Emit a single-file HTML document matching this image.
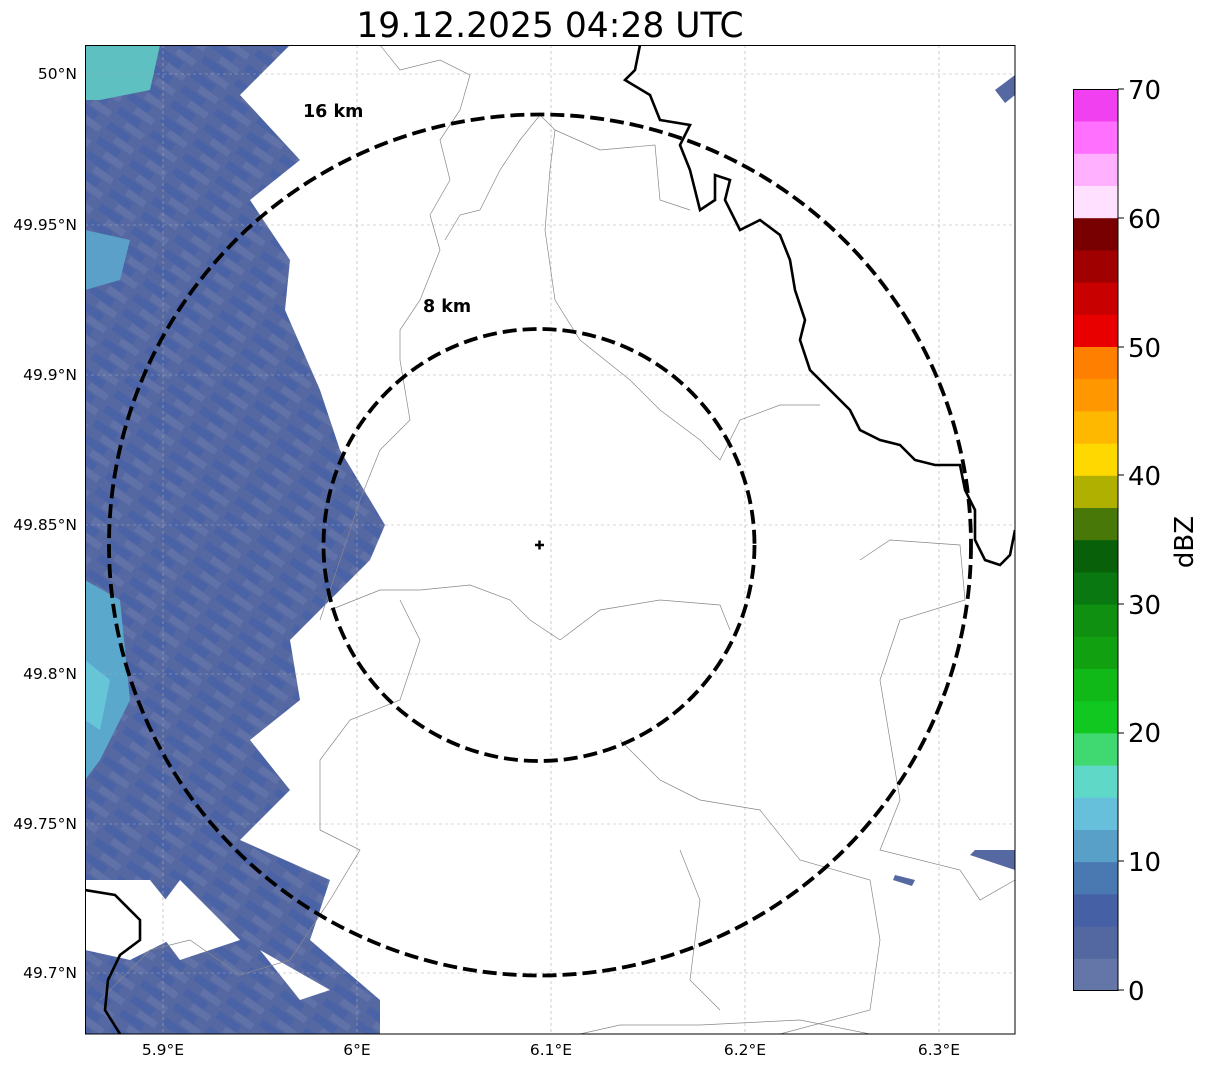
<!DOCTYPE html>
<html><head><meta charset="utf-8"><style>
body{margin:0;background:#fff;width:1207px;height:1069px;overflow:hidden;font-family:"DejaVu Sans",sans-serif}
</style></head><body>
<svg width="1207" height="1069" viewBox="0 0 1207 1069" xmlns="http://www.w3.org/2000/svg" font-family="DejaVu Sans, sans-serif">
<defs>
<pattern id="st" width="40" height="18" patternUnits="userSpaceOnUse" patternTransform="rotate(35)">
<rect width="40" height="18" fill="#5568a2"/>
<rect x="0" y="0" width="26" height="8" fill="#4a62a6"/>
<rect x="14" y="9" width="22" height="7" fill="#6072a8"/>
</pattern>
<clipPath id="pc"><rect x="85" y="45" width="930" height="989"/></clipPath>
</defs>
<text x="550" y="37" font-size="34.5" text-anchor="middle">19.12.2025 04:28 UTC</text>
<g clip-path="url(#pc)">
<path d="M85,45 L290,45 L240,95 L300,160 L250,200 L290,260 L285,310 L320,390 L340,450 L385,525 L370,560 L330,600 L290,640 L300,700 L250,740 L290,790 L240,840 L330,880 L310,940 L380,1000 L380,1034 L85,1034 Z" fill="url(#st)"/>
<path d="M85,880 L150,880 L190,930 L130,960 L85,950 Z" fill="#fff"/>
<path d="M180,880 L240,940 L180,960 L150,920 Z" fill="#fff"/>
<path d="M260,950 L330,990 L300,1000 Z" fill="#fff"/>
<path d="M85,45 L160,45 L150,90 L100,100 L85,100 Z" fill="#5ec0c0"/>
<path d="M85,580 L120,600 L130,700 L100,760 L85,780 Z" fill="#5aa8cc"/>
<path d="M85,230 L130,240 L120,280 L85,290 Z" fill="#5aa0c8"/>
<path d="M85,660 L110,680 L100,730 L85,720 Z" fill="#66c6d8"/>
<path d="M970,855 L1015,870 L1015,850 L975,850 Z" fill="#5568a2"/>
<path d="M895,875 L915,880 L912,886 L893,880 Z" fill="#5568a2"/>
<path d="M995,90 L1015,75 L1015,95 L1005,103 Z" fill="#5568a2"/>
</g>
<g stroke="#aaa" stroke-width="0.6" stroke-dasharray="3,3" fill="none">
<line x1="163" y1="45" x2="163" y2="1034"/><line x1="357" y1="45" x2="357" y2="1034"/><line x1="551" y1="45" x2="551" y2="1034"/><line x1="745" y1="45" x2="745" y2="1034"/><line x1="939" y1="45" x2="939" y2="1034"/>
<line x1="85" y1="74" x2="1015" y2="74"/><line x1="85" y1="225" x2="1015" y2="225"/><line x1="85" y1="375" x2="1015" y2="375"/><line x1="85" y1="525" x2="1015" y2="525"/><line x1="85" y1="674" x2="1015" y2="674"/><line x1="85" y1="824" x2="1015" y2="824"/><line x1="85" y1="973" x2="1015" y2="973"/>
</g>
<g stroke="#888" stroke-width="0.7" fill="none" clip-path="url(#pc)">
<path d="M380,45 L400,70 L440,60 L470,75 L460,110 L440,140 L450,180 L430,215 L440,250 L420,300 L400,330 L400,360 L410,420 L380,450 L360,500 L340,560 L320,620"/>
<path d="M540,115 L520,140 L500,170 L480,210 L460,215 L445,240"/>
<path d="M540,115 L555,130 L550,170 L545,230 L555,300 L580,340 L630,380 L660,410 L700,440 L720,460 L740,420 L780,405 L820,405"/>
<path d="M330,610 L380,590 L420,590 L470,585 L510,600 L530,620 L560,640 L600,610 L660,600 L720,605 L730,630"/>
<path d="M555,130 L600,150 L655,145 L660,200 L690,210"/>
<path d="M860,560 L890,540 L960,545 L965,600 L900,620 L880,680 L900,800 L880,850 L960,870 L980,900 L1015,880"/>
<path d="M400,600 L420,640 L400,700 L350,720 L320,760 L320,830 L360,850 L330,900 L290,960 L240,975 L190,940 L150,950 L100,1000"/>
<path d="M620,740 L660,780 L700,800 L760,810 L800,860 L870,880 L880,940 L870,1010 L780,1034"/>
<path d="M580,1034 L620,1025 L700,1025 L800,1020 L870,1034"/>
<path d="M680,850 L700,900 L690,980 L720,1010"/>
</g>
<g stroke="#000" stroke-width="2.6" fill="none" clip-path="url(#pc)">
<path d="M640,45 L635,70 L625,80 L650,95 L660,120 L690,125 L680,145 L690,170 L700,210 L715,200 L715,175 L730,180 L725,200 L740,230 L760,220 L780,235 L790,260 L795,290 L805,320 L800,340 L810,370 L830,390 L850,410 L860,430 L880,440 L900,445 L915,460 L935,465 L960,465 L965,490 L975,510 L975,540 L985,560 L1000,565 L1010,555 L1015,530"/>
<path d="M85,890 L115,895 L140,920 L140,940 L120,955 L108,980 L105,1010 L120,1034"/>
</g>
<g stroke="#000" stroke-width="3.8" fill="none" stroke-dasharray="14,6">
<ellipse cx="540" cy="545" rx="431" ry="430.5"/>
<ellipse cx="539" cy="545" rx="215.5" ry="216"/>
</g>
<path d="M535,545 h9 M539.5,540.5 v9" stroke="#000" stroke-width="2.5"/>
<text x="303" y="117" font-size="17.5" font-weight="bold">16 km</text>
<text x="423" y="312" font-size="17.5" font-weight="bold">8 km</text>
<rect x="85.5" y="45.5" width="929.5" height="988.5" fill="none" stroke="#000" stroke-width="1"/>
<g font-size="15.5" text-anchor="middle">
<text x="163" y="1055">5.9°E</text><text x="357" y="1055">6°E</text><text x="551" y="1055">6.1°E</text><text x="745" y="1055">6.2°E</text><text x="939" y="1055">6.3°E</text>
</g>
<g font-size="15.5" text-anchor="end">
<text x="77" y="79">50°N</text><text x="77" y="230">49.95°N</text><text x="77" y="380">49.9°N</text><text x="77" y="530">49.85°N</text><text x="77" y="679">49.8°N</text><text x="77" y="829">49.75°N</text><text x="77" y="978">49.7°N</text>
</g>
<g>
<rect x="1073" y="958" width="45" height="33" fill="#6475a8"/>
<rect x="1073" y="925.8" width="45" height="33" fill="#5368a0"/>
<rect x="1073" y="893.6" width="45" height="33" fill="#4560a5"/>
<rect x="1073" y="861.4" width="45" height="33" fill="#4a78b0"/>
<rect x="1073" y="829.2" width="45" height="33" fill="#58a0c8"/>
<rect x="1073" y="797" width="45" height="33" fill="#66c0dc"/>
<rect x="1073" y="764.8" width="45" height="33" fill="#60d8c8"/>
<rect x="1073" y="732.6" width="45" height="33" fill="#40d870"/>
<rect x="1073" y="700.4" width="45" height="33" fill="#10c820"/>
<rect x="1073" y="668.2" width="45" height="33" fill="#10b818"/>
<rect x="1073" y="636" width="45" height="33" fill="#10a010"/>
<rect x="1073" y="603.8" width="45" height="33" fill="#109010"/>
<rect x="1073" y="571.6" width="45" height="33" fill="#0a7810"/>
<rect x="1073" y="539.4" width="45" height="33" fill="#086008"/>
<rect x="1073" y="507.2" width="45" height="33" fill="#487808"/>
<rect x="1073" y="475" width="45" height="33" fill="#b0b000"/>
<rect x="1073" y="442.8" width="45" height="33" fill="#ffd800"/>
<rect x="1073" y="410.6" width="45" height="33" fill="#ffb800"/>
<rect x="1073" y="378.4" width="45" height="33" fill="#ff9800"/>
<rect x="1073" y="346.2" width="45" height="33" fill="#ff8000"/>
<rect x="1073" y="314" width="45" height="33" fill="#e80000"/>
<rect x="1073" y="281.8" width="45" height="33" fill="#c80000"/>
<rect x="1073" y="249.6" width="45" height="33" fill="#a00000"/>
<rect x="1073" y="217.4" width="45" height="33" fill="#780000"/>
<rect x="1073" y="185.2" width="45" height="33" fill="#ffe0ff"/>
<rect x="1073" y="153" width="45" height="33" fill="#ffb0ff"/>
<rect x="1073" y="120.8" width="45" height="33" fill="#ff70ff"/>
<rect x="1073" y="89" width="45" height="32.5" fill="#f040f0"/>
<rect x="1073.5" y="89.5" width="44.5" height="901" fill="none" stroke="#000" stroke-width="1"/>
</g>
<g font-size="26">
<text x="1128" y="1000">0</text><text x="1128" y="871">10</text><text x="1128" y="742">20</text><text x="1128" y="614">30</text><text x="1128" y="485">40</text><text x="1128" y="357">50</text><text x="1128" y="228">60</text><text x="1128" y="99">70</text>
</g>
<g stroke="#000"><line x1="1118" y1="990" x2="1124" y2="990"/><line x1="1118" y1="861" x2="1124" y2="861"/><line x1="1118" y1="733" x2="1124" y2="733"/><line x1="1118" y1="604" x2="1124" y2="604"/><line x1="1118" y1="475" x2="1124" y2="475"/><line x1="1118" y1="347" x2="1124" y2="347"/><line x1="1118" y1="218" x2="1124" y2="218"/><line x1="1118" y1="89" x2="1124" y2="89"/></g>
<text x="1193" y="542" font-size="26" text-anchor="middle" transform="rotate(-90 1193 542)">dBZ</text>
</svg>
</body></html>
